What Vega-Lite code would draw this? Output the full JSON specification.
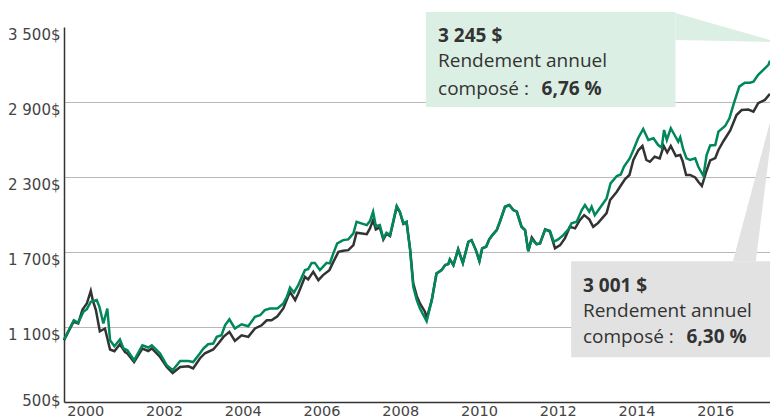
{
  "$schema": "https://vega.github.io/schema/vega-lite/v6.json",
  "width": 706,
  "height": 375,
  "autosize": "none",
  "padding": {"left": 64, "top": 27, "right": 0, "bottom": 15},
  "config": {"view": {"stroke": null}, "font": "Open Sans"},
  "datasets": {
    "boxes": [
      {"k": "g", "t": 2009.15, "t2": 2015.49, "v": 3621, "v2": 2861},
      {"k": "k", "t": 2012.84, "t2": 2018.2, "v": 1627, "v2": 858}
    ],
    "wedgeG": [
      {"t": 2015.49, "v": 3613, "v2": 3397},
      {"t": 2017.89, "v": 3397, "v2": 3381}
    ],
    "wedgeK": [
      {"t": 2016.95, "t2": 2017.53, "v": 1627},
      {"t": 2018.04, "t2": 2018.04, "v": 2917}
    ],
    "years": [
      {"t": 2001}, {"t": 2002}, {"t": 2003}, {"t": 2004}, {"t": 2005}, {"t": 2006}, {"t": 2007}, {"t": 2008}, {"t": 2009}, {"t": 2010}, {"t": 2011}, {"t": 2012}, {"t": 2013}, {"t": 2014}, {"t": 2015}, {"t": 2016}, {"t": 2017}
    ],
    "texts": [
      {"t": 2009.46, "v": 3381, "label": "3 245 $", "w": "bold"},
      {"t": 2009.46, "v": 3183, "label": "Rendement annuel", "w": "normal"},
      {"t": 2009.46, "v": 2957, "label": "composé :", "w": "normal"},
      {"t": 2012.09, "v": 2957, "label": "6,76 %", "w": "bold"},
      {"t": 2013.14, "v": 1381, "label": "3 001 $", "w": "bold"},
      {"t": 2013.14, "v": 1181, "label": "Rendement annuel", "w": "normal"},
      {"t": 2013.14, "v": 973, "label": "composé :", "w": "normal"},
      {"t": 2015.77, "v": 973, "label": "6,30 %", "w": "bold"}
    ],
    "series": [
      {"s": "A", "t": 1999.96, "v": 1000}, {"s": "A", "t": 2000.21, "v": 1154}, {"s": "A", "t": 2000.32, "v": 1133}, {"s": "A", "t": 2000.45, "v": 1221}, {"s": "A", "t": 2000.54, "v": 1243}, {"s": "A", "t": 2000.64, "v": 1301}, {"s": "A", "t": 2000.79, "v": 1315}, {"s": "A", "t": 2000.86, "v": 1261}, {"s": "A", "t": 2000.96, "v": 1128}, {"s": "A", "t": 2001.06, "v": 1248}, {"s": "A", "t": 2001.13, "v": 994}, {"s": "A", "t": 2001.24, "v": 946}, {"s": "A", "t": 2001.38, "v": 1000}, {"s": "A", "t": 2001.47, "v": 928}, {"s": "A", "t": 2001.57, "v": 914}, {"s": "A", "t": 2001.74, "v": 834}, {"s": "A", "t": 2001.95, "v": 954}, {"s": "A", "t": 2002.1, "v": 936}, {"s": "A", "t": 2002.19, "v": 954}, {"s": "A", "t": 2002.4, "v": 888}, {"s": "A", "t": 2002.57, "v": 794}, {"s": "A", "t": 2002.72, "v": 754}, {"s": "A", "t": 2002.91, "v": 828}, {"s": "A", "t": 2003.12, "v": 828}, {"s": "A", "t": 2003.24, "v": 820}, {"s": "A", "t": 2003.41, "v": 888}, {"s": "A", "t": 2003.5, "v": 928}, {"s": "A", "t": 2003.62, "v": 962}, {"s": "A", "t": 2003.75, "v": 968}, {"s": "A", "t": 2003.84, "v": 1021}, {"s": "A", "t": 2003.96, "v": 1034}, {"s": "A", "t": 2004.05, "v": 1114}, {"s": "A", "t": 2004.16, "v": 1162}, {"s": "A", "t": 2004.3, "v": 1088}, {"s": "A", "t": 2004.47, "v": 1122}, {"s": "A", "t": 2004.64, "v": 1106}, {"s": "A", "t": 2004.81, "v": 1181}, {"s": "A", "t": 2004.94, "v": 1194}, {"s": "A", "t": 2005.06, "v": 1235}, {"s": "A", "t": 2005.19, "v": 1248}, {"s": "A", "t": 2005.38, "v": 1248}, {"s": "A", "t": 2005.53, "v": 1288}, {"s": "A", "t": 2005.62, "v": 1341}, {"s": "A", "t": 2005.7, "v": 1416}, {"s": "A", "t": 2005.8, "v": 1376}, {"s": "A", "t": 2005.91, "v": 1435}, {"s": "A", "t": 2006.08, "v": 1555}, {"s": "A", "t": 2006.16, "v": 1563}, {"s": "A", "t": 2006.25, "v": 1613}, {"s": "A", "t": 2006.33, "v": 1613}, {"s": "A", "t": 2006.46, "v": 1555}, {"s": "A", "t": 2006.63, "v": 1613}, {"s": "A", "t": 2006.71, "v": 1609}, {"s": "A", "t": 2006.8, "v": 1689}, {"s": "A", "t": 2006.9, "v": 1769}, {"s": "A", "t": 2007.05, "v": 1795}, {"s": "A", "t": 2007.18, "v": 1801}, {"s": "A", "t": 2007.31, "v": 1849}, {"s": "A", "t": 2007.39, "v": 1942}, {"s": "A", "t": 2007.65, "v": 1915}, {"s": "A", "t": 2007.73, "v": 1947}, {"s": "A", "t": 2007.81, "v": 2022}, {"s": "A", "t": 2007.88, "v": 1907}, {"s": "A", "t": 2007.98, "v": 1915}, {"s": "A", "t": 2008.07, "v": 1809}, {"s": "A", "t": 2008.15, "v": 1854}, {"s": "A", "t": 2008.24, "v": 1835}, {"s": "A", "t": 2008.31, "v": 1929}, {"s": "A", "t": 2008.41, "v": 2068}, {"s": "A", "t": 2008.49, "v": 2022}, {"s": "A", "t": 2008.58, "v": 1929}, {"s": "A", "t": 2008.66, "v": 1942}, {"s": "A", "t": 2008.75, "v": 1715}, {"s": "A", "t": 2008.83, "v": 1421}, {"s": "A", "t": 2008.92, "v": 1315}, {"s": "A", "t": 2009.0, "v": 1248}, {"s": "A", "t": 2009.17, "v": 1146}, {"s": "A", "t": 2009.3, "v": 1315}, {"s": "A", "t": 2009.42, "v": 1528}, {"s": "A", "t": 2009.55, "v": 1555}, {"s": "A", "t": 2009.64, "v": 1595}, {"s": "A", "t": 2009.72, "v": 1603}, {"s": "A", "t": 2009.76, "v": 1641}, {"s": "A", "t": 2009.85, "v": 1595}, {"s": "A", "t": 2009.97, "v": 1721}, {"s": "A", "t": 2010.09, "v": 1613}, {"s": "A", "t": 2010.23, "v": 1782}, {"s": "A", "t": 2010.31, "v": 1795}, {"s": "A", "t": 2010.42, "v": 1715}, {"s": "A", "t": 2010.51, "v": 1627}, {"s": "A", "t": 2010.58, "v": 1729}, {"s": "A", "t": 2010.68, "v": 1742}, {"s": "A", "t": 2010.76, "v": 1801}, {"s": "A", "t": 2010.86, "v": 1843}, {"s": "A", "t": 2010.95, "v": 1875}, {"s": "A", "t": 2011.03, "v": 1942}, {"s": "A", "t": 2011.16, "v": 2062}, {"s": "A", "t": 2011.27, "v": 2076}, {"s": "A", "t": 2011.37, "v": 2036}, {"s": "A", "t": 2011.46, "v": 2022}, {"s": "A", "t": 2011.58, "v": 1902}, {"s": "A", "t": 2011.67, "v": 1875}, {"s": "A", "t": 2011.75, "v": 1707}, {"s": "A", "t": 2011.84, "v": 1801}, {"s": "A", "t": 2011.96, "v": 1763}, {"s": "A", "t": 2012.05, "v": 1769}, {"s": "A", "t": 2012.18, "v": 1881}, {"s": "A", "t": 2012.3, "v": 1870}, {"s": "A", "t": 2012.4, "v": 1782}, {"s": "A", "t": 2012.51, "v": 1801}, {"s": "A", "t": 2012.64, "v": 1835}, {"s": "A", "t": 2012.77, "v": 1881}, {"s": "A", "t": 2012.85, "v": 1929}, {"s": "A", "t": 2012.98, "v": 1942}, {"s": "A", "t": 2013.11, "v": 2036}, {"s": "A", "t": 2013.19, "v": 2076}, {"s": "A", "t": 2013.3, "v": 2022}, {"s": "A", "t": 2013.36, "v": 2062}, {"s": "A", "t": 2013.44, "v": 1995}, {"s": "A", "t": 2013.57, "v": 2052}, {"s": "A", "t": 2013.74, "v": 2129}, {"s": "A", "t": 2013.84, "v": 2249}, {"s": "A", "t": 2014.0, "v": 2308}, {"s": "A", "t": 2014.1, "v": 2320}, {"s": "A", "t": 2014.18, "v": 2382}, {"s": "A", "t": 2014.33, "v": 2450}, {"s": "A", "t": 2014.42, "v": 2516}, {"s": "A", "t": 2014.54, "v": 2610}, {"s": "A", "t": 2014.67, "v": 2684}, {"s": "A", "t": 2014.8, "v": 2596}, {"s": "A", "t": 2014.93, "v": 2610}, {"s": "A", "t": 2015.05, "v": 2556}, {"s": "A", "t": 2015.14, "v": 2535}, {"s": "A", "t": 2015.2, "v": 2676}, {"s": "A", "t": 2015.27, "v": 2596}, {"s": "A", "t": 2015.37, "v": 2690}, {"s": "A", "t": 2015.48, "v": 2628}, {"s": "A", "t": 2015.56, "v": 2583}, {"s": "A", "t": 2015.61, "v": 2618}, {"s": "A", "t": 2015.69, "v": 2516}, {"s": "A", "t": 2015.77, "v": 2450}, {"s": "A", "t": 2015.86, "v": 2436}, {"s": "A", "t": 2015.99, "v": 2450}, {"s": "A", "t": 2016.07, "v": 2382}, {"s": "A", "t": 2016.2, "v": 2308}, {"s": "A", "t": 2016.28, "v": 2476}, {"s": "A", "t": 2016.37, "v": 2552}, {"s": "A", "t": 2016.5, "v": 2556}, {"s": "A", "t": 2016.58, "v": 2663}, {"s": "A", "t": 2016.75, "v": 2708}, {"s": "A", "t": 2016.86, "v": 2770}, {"s": "A", "t": 2016.96, "v": 2877}, {"s": "A", "t": 2017.11, "v": 3023}, {"s": "A", "t": 2017.25, "v": 3055}, {"s": "A", "t": 2017.38, "v": 3055}, {"s": "A", "t": 2017.47, "v": 3063}, {"s": "A", "t": 2017.59, "v": 3117}, {"s": "A", "t": 2017.72, "v": 3157}, {"s": "A", "t": 2017.85, "v": 3197}, {"s": "A", "t": 2017.89, "v": 3230},
      {"s": "B", "t": 1999.96, "v": 994}, {"s": "B", "t": 2000.2, "v": 1141}, {"s": "B", "t": 2000.32, "v": 1128}, {"s": "B", "t": 2000.43, "v": 1240}, {"s": "B", "t": 2000.54, "v": 1288}, {"s": "B", "t": 2000.64, "v": 1389}, {"s": "B", "t": 2000.69, "v": 1315}, {"s": "B", "t": 2000.77, "v": 1235}, {"s": "B", "t": 2000.87, "v": 1066}, {"s": "B", "t": 2001.0, "v": 1088}, {"s": "B", "t": 2001.13, "v": 920}, {"s": "B", "t": 2001.24, "v": 906}, {"s": "B", "t": 2001.38, "v": 962}, {"s": "B", "t": 2001.51, "v": 900}, {"s": "B", "t": 2001.57, "v": 888}, {"s": "B", "t": 2001.74, "v": 820}, {"s": "B", "t": 2001.95, "v": 928}, {"s": "B", "t": 2002.1, "v": 908}, {"s": "B", "t": 2002.19, "v": 928}, {"s": "B", "t": 2002.4, "v": 860}, {"s": "B", "t": 2002.57, "v": 780}, {"s": "B", "t": 2002.72, "v": 732}, {"s": "B", "t": 2002.91, "v": 780}, {"s": "B", "t": 2003.12, "v": 786}, {"s": "B", "t": 2003.24, "v": 768}, {"s": "B", "t": 2003.41, "v": 848}, {"s": "B", "t": 2003.54, "v": 890}, {"s": "B", "t": 2003.75, "v": 920}, {"s": "B", "t": 2003.88, "v": 968}, {"s": "B", "t": 2004.01, "v": 1021}, {"s": "B", "t": 2004.16, "v": 1061}, {"s": "B", "t": 2004.3, "v": 989}, {"s": "B", "t": 2004.47, "v": 1034}, {"s": "B", "t": 2004.64, "v": 1021}, {"s": "B", "t": 2004.81, "v": 1088}, {"s": "B", "t": 2004.98, "v": 1114}, {"s": "B", "t": 2005.11, "v": 1154}, {"s": "B", "t": 2005.23, "v": 1154}, {"s": "B", "t": 2005.38, "v": 1186}, {"s": "B", "t": 2005.53, "v": 1248}, {"s": "B", "t": 2005.7, "v": 1381}, {"s": "B", "t": 2005.83, "v": 1315}, {"s": "B", "t": 2005.91, "v": 1368}, {"s": "B", "t": 2006.08, "v": 1501}, {"s": "B", "t": 2006.16, "v": 1480}, {"s": "B", "t": 2006.29, "v": 1541}, {"s": "B", "t": 2006.42, "v": 1475}, {"s": "B", "t": 2006.54, "v": 1515}, {"s": "B", "t": 2006.7, "v": 1555}, {"s": "B", "t": 2006.8, "v": 1621}, {"s": "B", "t": 2006.93, "v": 1701}, {"s": "B", "t": 2007.05, "v": 1710}, {"s": "B", "t": 2007.18, "v": 1715}, {"s": "B", "t": 2007.31, "v": 1755}, {"s": "B", "t": 2007.39, "v": 1854}, {"s": "B", "t": 2007.65, "v": 1843}, {"s": "B", "t": 2007.73, "v": 1889}, {"s": "B", "t": 2007.81, "v": 1955}, {"s": "B", "t": 2007.88, "v": 1881}, {"s": "B", "t": 2007.98, "v": 1897}, {"s": "B", "t": 2008.07, "v": 1800}, {"s": "B", "t": 2008.15, "v": 1845}, {"s": "B", "t": 2008.24, "v": 1828}, {"s": "B", "t": 2008.31, "v": 1922}, {"s": "B", "t": 2008.41, "v": 2062}, {"s": "B", "t": 2008.49, "v": 2018}, {"s": "B", "t": 2008.58, "v": 1925}, {"s": "B", "t": 2008.66, "v": 1938}, {"s": "B", "t": 2008.75, "v": 1725}, {"s": "B", "t": 2008.83, "v": 1450}, {"s": "B", "t": 2008.92, "v": 1347}, {"s": "B", "t": 2009.0, "v": 1288}, {"s": "B", "t": 2009.13, "v": 1221}, {"s": "B", "t": 2009.17, "v": 1168}, {"s": "B", "t": 2009.3, "v": 1315}, {"s": "B", "t": 2009.42, "v": 1528}, {"s": "B", "t": 2009.55, "v": 1555}, {"s": "B", "t": 2009.64, "v": 1595}, {"s": "B", "t": 2009.72, "v": 1603}, {"s": "B", "t": 2009.76, "v": 1641}, {"s": "B", "t": 2009.85, "v": 1595}, {"s": "B", "t": 2009.97, "v": 1721}, {"s": "B", "t": 2010.09, "v": 1613}, {"s": "B", "t": 2010.23, "v": 1782}, {"s": "B", "t": 2010.31, "v": 1795}, {"s": "B", "t": 2010.42, "v": 1715}, {"s": "B", "t": 2010.51, "v": 1627}, {"s": "B", "t": 2010.58, "v": 1729}, {"s": "B", "t": 2010.68, "v": 1742}, {"s": "B", "t": 2010.76, "v": 1801}, {"s": "B", "t": 2010.86, "v": 1843}, {"s": "B", "t": 2010.95, "v": 1875}, {"s": "B", "t": 2011.03, "v": 1942}, {"s": "B", "t": 2011.16, "v": 2062}, {"s": "B", "t": 2011.27, "v": 2076}, {"s": "B", "t": 2011.37, "v": 2036}, {"s": "B", "t": 2011.46, "v": 2022}, {"s": "B", "t": 2011.58, "v": 1902}, {"s": "B", "t": 2011.67, "v": 1875}, {"s": "B", "t": 2011.75, "v": 1707}, {"s": "B", "t": 2011.84, "v": 1817}, {"s": "B", "t": 2011.96, "v": 1763}, {"s": "B", "t": 2012.05, "v": 1769}, {"s": "B", "t": 2012.18, "v": 1881}, {"s": "B", "t": 2012.3, "v": 1862}, {"s": "B", "t": 2012.43, "v": 1729}, {"s": "B", "t": 2012.56, "v": 1755}, {"s": "B", "t": 2012.68, "v": 1809}, {"s": "B", "t": 2012.81, "v": 1902}, {"s": "B", "t": 2012.94, "v": 1889}, {"s": "B", "t": 2013.06, "v": 1955}, {"s": "B", "t": 2013.17, "v": 1995}, {"s": "B", "t": 2013.3, "v": 1961}, {"s": "B", "t": 2013.4, "v": 1902}, {"s": "B", "t": 2013.52, "v": 1931}, {"s": "B", "t": 2013.74, "v": 2011}, {"s": "B", "t": 2013.83, "v": 2116}, {"s": "B", "t": 2014.0, "v": 2182}, {"s": "B", "t": 2014.08, "v": 2222}, {"s": "B", "t": 2014.21, "v": 2284}, {"s": "B", "t": 2014.32, "v": 2316}, {"s": "B", "t": 2014.42, "v": 2436}, {"s": "B", "t": 2014.55, "v": 2516}, {"s": "B", "t": 2014.65, "v": 2548}, {"s": "B", "t": 2014.75, "v": 2436}, {"s": "B", "t": 2014.84, "v": 2422}, {"s": "B", "t": 2014.96, "v": 2462}, {"s": "B", "t": 2015.09, "v": 2448}, {"s": "B", "t": 2015.19, "v": 2548}, {"s": "B", "t": 2015.28, "v": 2496}, {"s": "B", "t": 2015.37, "v": 2548}, {"s": "B", "t": 2015.5, "v": 2468}, {"s": "B", "t": 2015.61, "v": 2476}, {"s": "B", "t": 2015.67, "v": 2428}, {"s": "B", "t": 2015.76, "v": 2316}, {"s": "B", "t": 2015.86, "v": 2316}, {"s": "B", "t": 2015.99, "v": 2296}, {"s": "B", "t": 2016.07, "v": 2262}, {"s": "B", "t": 2016.16, "v": 2228}, {"s": "B", "t": 2016.27, "v": 2342}, {"s": "B", "t": 2016.37, "v": 2432}, {"s": "B", "t": 2016.5, "v": 2452}, {"s": "B", "t": 2016.58, "v": 2516}, {"s": "B", "t": 2016.71, "v": 2588}, {"s": "B", "t": 2016.88, "v": 2672}, {"s": "B", "t": 2017.04, "v": 2796}, {"s": "B", "t": 2017.17, "v": 2836}, {"s": "B", "t": 2017.34, "v": 2840}, {"s": "B", "t": 2017.47, "v": 2823}, {"s": "B", "t": 2017.59, "v": 2890}, {"s": "B", "t": 2017.76, "v": 2917}, {"s": "B", "t": 2017.89, "v": 2965}
    ]
  },
  "encoding": {
    "x": {
      "field": "t", "type": "quantitative",
      "scale": {"domain": [1999.96, 2017.89], "nice": false, "zero": false},
      "axis": {
        "title": null, "grid": false, "ticks": false,
        "values": [2000, 2002, 2004, 2006, 2008, 2010, 2012, 2014, 2016],
        "labelExpr": "format(datum.value, 'd')",
        "labelOffset": 19.7, "labelFlush": false, "labelOverlap": false, "labelBound": false,
        "domainColor": "#333333", "domainWidth": 1.5,
        "labelFont": "DejaVu Sans", "labelFontSize": 14.5, "labelColor": "#444444", "labelPadding": 2, "labelBaseline": "top"
      }
    },
    "y": {
      "field": "v", "type": "quantitative",
      "scale": {"domain": [500, 3500], "nice": false, "zero": false},
      "axis": {
        "title": null, "ticks": false,
        "values": [500, 1100, 1700, 2300, 2900, 3500],
        "labelExpr": "replace(format(datum.value, ','), ',', ' ') + '$'",
        "gridColor": "#b8b8b8", "gridWidth": 1,
        "gridOpacity": {"condition": {"test": "datum.value == 500 || datum.value == 3500", "value": 0}, "value": 1},
        "labelOffset": {"condition": {"test": "datum.value == 500", "value": -2}, "value": 7},
        "domainColor": "#333333", "domainWidth": 1.5,
        "labelFont": "DejaVu Sans", "labelFontSize": 15, "labelColor": "#444444", "labelPadding": 4
      }
    }
  },
  "layer": [
    {
      "data": {"name": "years"},
      "mark": {"type": "rule", "color": "#333333", "strokeWidth": 1.5},
      "encoding": {"y": {"datum": 500}, "y2": {"datum": 565}}
    },
    {
      "data": {"name": "boxes"},
      "mark": {"type": "rect"},
      "encoding": {
        "x2": {"field": "t2"},
        "y2": {"field": "v2"},
        "color": {"field": "k", "type": "nominal", "scale": {"domain": ["g", "k"], "range": ["#dcefe4", "#e2e2e2"]}, "legend": null}
      }
    },
    {
      "data": {"name": "wedgeG"},
      "mark": {"type": "area", "color": "#dcefe4"},
      "encoding": {"y2": {"field": "v2"}}
    },
    {
      "data": {"name": "wedgeK"},
      "mark": {"type": "area", "orient": "horizontal", "color": "#e2e2e2"},
      "encoding": {"x2": {"field": "t2"}}
    },
    {
      "data": {"name": "series"},
      "transform": [{"filter": "datum.s == 'B'"}],
      "mark": {"type": "line", "color": "#333333", "strokeWidth": 2.5},
      "encoding": {}
    },
    {
      "data": {"name": "series"},
      "transform": [{"filter": "datum.s == 'A'"}],
      "mark": {"type": "line", "color": "#00875a", "strokeWidth": 2.5},
      "encoding": {}
    },
    {
      "data": {"name": "texts"},
      "transform": [{"filter": "datum.w == 'normal'"}],
      "mark": {"type": "text", "align": "left", "baseline": "alphabetic", "fontSize": 19, "color": "#333333", "font": "Open Sans"},
      "encoding": {"text": {"field": "label"}}
    },
    {
      "data": {"name": "texts"},
      "transform": [{"filter": "datum.w == 'bold'"}],
      "mark": {"type": "text", "align": "left", "baseline": "alphabetic", "fontSize": 19, "fontWeight": "bold", "color": "#333333", "font": "Open Sans"},
      "encoding": {"text": {"field": "label"}}
    }
  ]
}
